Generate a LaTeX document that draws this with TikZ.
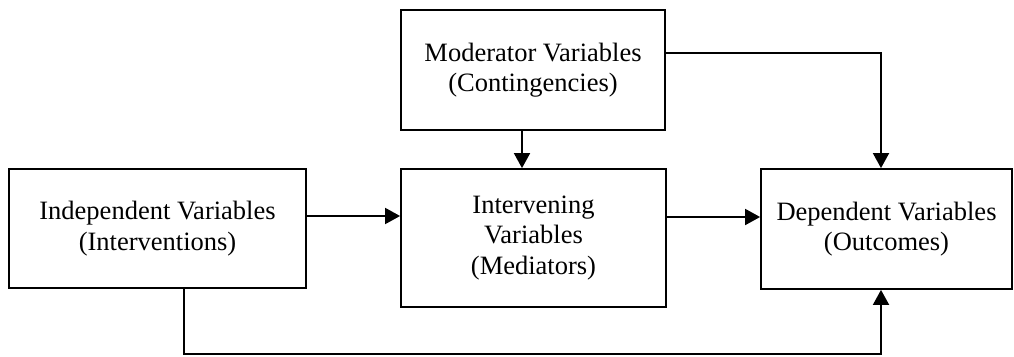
\documentclass[tikz,border=0pt]{standalone}
\usepackage{fontspec}
\setmainfont{Liberation Serif}
\usetikzlibrary{arrows.meta, positioning}

\begin{document}
\begin{tikzpicture}[x=1pt, y=-1pt, >={Triangle[length=15pt, width=16pt]}, line width=1.8pt,
      box/.style={draw, inner sep=0pt, align=center,
                  font=\fontsize{26.5}{30.5}\selectfont},
      link/.style={->, line width=1.8pt}]

    % canvas (same proportions as the reference)
    \useasboundingbox (0,0) rectangle (1014,356);

    % Boxes
    \node[box, minimum width=264pt, minimum height=120pt] (mod)    at (533, 70)
        {Moderator Variables\\(Contingencies)};
    \node[box, minimum width=297pt, minimum height=119pt] (indep)  at (157.5, 228.5)
        {Independent Variables\\(Interventions)};
    \node[box, minimum width=265pt, minimum height=138pt] (interv) at (533.5, 238)
        {Intervening\\Variables\\(Mediators)};
    \node[box, minimum width=251pt, minimum height=120pt] (dep)    at (886.5, 229)
        {Dependent Variables\\(Outcomes)};

    % Helper points for the bends
    \coordinate (modOut)  at ([yshift=17pt]mod.east);
    \coordinate (depTop)  at ([xshift=-5.5pt]dep.north);
    \coordinate (depBot)  at ([xshift=-5.5pt]dep.south);
    \coordinate (modDown) at ([xshift=-11pt]mod.south);
    \coordinate (indDown) at ([xshift=26.5pt]indep.south);
    \coordinate (floor)   at (0, 354);

    % Connectors
    \draw[link] (modDown) -- (modDown |- interv.north);
    \draw[link] (modOut) -| (depTop);
    \draw[link] ([yshift=12.5pt]indep.east) -- ([yshift=12.5pt]indep.east -| interv.west);
    \draw[link] ([yshift=21pt]interv.east) -- ([yshift=21pt]interv.east -| dep.west);
    \draw[link] (indDown) -- (indDown |- floor) -| (depBot);

\end{tikzpicture}
\end{document}
